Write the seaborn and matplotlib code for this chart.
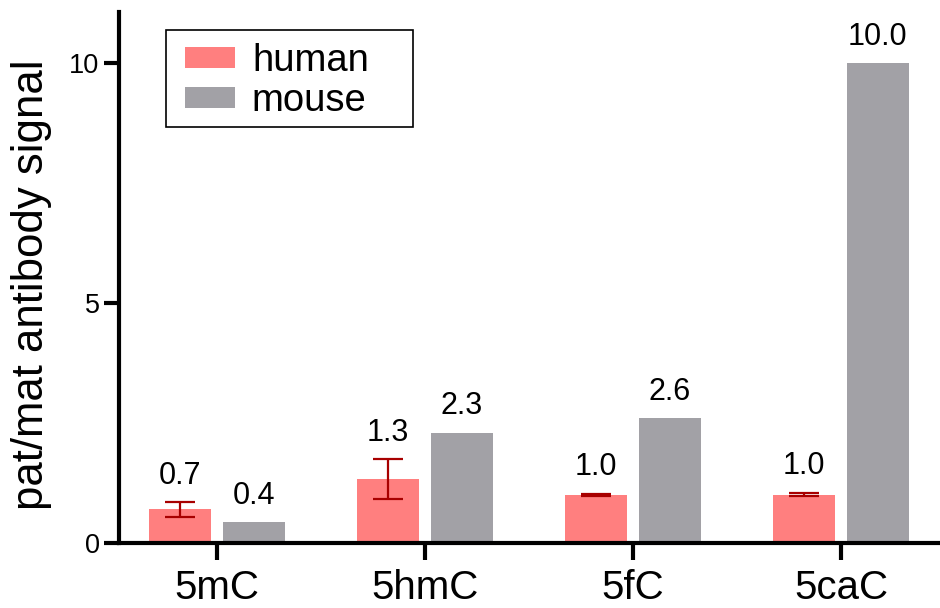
import matplotlib
matplotlib.use("Agg")
import matplotlib.pyplot as plt
from matplotlib.patches import Rectangle
import numpy as np
import pandas as pd
import seaborn as sns

# values
categories = ["5mC", "5hmC", "5fC", "5caC"]
species = ["human", "mouse"]
human_vals = [0.7, 1.33, 1.0, 1.0]
mouse_vals = [0.43, 2.3, 2.6, 10.0]
human_err_lo = [0.54, 0.92, 0.98, 0.98]
human_err_hi = [0.85, 1.75, 1.03, 1.05]
human_labels = ["0.7", "1.3", "1.0", "1.0"]
mouse_labels = ["0.4", "2.3", "2.6", "10.0"]

COLORS = {"human": "#FF7F7F", "mouse": "#A2A1A6"}
ERR_COLOR = "#A80000"

df = pd.DataFrame({
    "mark": categories * 2,
    "species": ["human"] * 4 + ["mouse"] * 4,
    "signal": human_vals + mouse_vals,
})

sns.set_theme(style="ticks")
plt.rcParams.update({
    "font.family": ["Liberation Sans", "DejaVu Sans"],
    "text.color": "black",
    "axes.labelcolor": "black",
    "axes.edgecolor": "black",
    "xtick.color": "black",
    "ytick.color": "black",
})

fig = plt.figure(figsize=(9.4, 6.08), dpi=100)
ax = fig.add_axes([0.1266, 0.1069, 0.8734, 0.873])

sns.barplot(data=df, x="mark", y="signal", hue="species", order=categories,
            hue_order=species, palette=COLORS, width=0.71, gap=0.155,
            errorbar=None, saturation=1, linewidth=0, ax=ax)

human_bars, mouse_bars = ax.containers[0], ax.containers[1]
hx = [p.get_x() + p.get_width() / 2 for p in human_bars]
mx = [p.get_x() + p.get_width() / 2 for p in mouse_bars]

lo = np.array(human_vals) - np.array(human_err_lo)
hi = np.array(human_err_hi) - np.array(human_vals)
ax.errorbar(hx, human_vals, yerr=[lo, hi], fmt="none", ecolor=ERR_COLOR,
            elinewidth=1.6, capsize=11, capthick=1.6, zorder=3)

for x, top, lab in zip(hx, human_err_hi, human_labels):
    ax.annotate(lab, (x, top), xytext=(0, 8), textcoords="offset points",
                ha="center", va="bottom", fontsize=22)
for x, top, lab in zip(mx, mouse_vals, mouse_labels):
    ax.annotate(lab, (x, top), xytext=(0, 8), textcoords="offset points",
                ha="center", va="bottom", fontsize=22)

ax.set_xlim(-0.471, 3.476)
ax.set_ylim(0, 11.05)
ax.set_yticks([0, 5, 10])
ax.set_xlabel("")
ax.set_ylabel("pat/mat antibody signal", fontsize=31.5)
ax.yaxis.set_label_coords(-0.082, 0.486)
ax.tick_params(axis="y", labelsize=19.5, width=3, length=11, pad=3)
ax.tick_params(axis="x", labelsize=29, width=3, length=12, pad=7)
sns.despine(ax=ax)
for s in ["left", "bottom"]:
    ax.spines[s].set_linewidth(3)

# legend entries without frame; the box is drawn separately to match the wide padding
ax.legend(loc="upper left", bbox_to_anchor=(0.0675, 0.962), fontsize=27.5,
          frameon=False, handlelength=1.3, handleheight=0.45,
          handletextpad=0.45, labelspacing=0.1, borderpad=0.28,
          borderaxespad=0)
ax.add_patch(Rectangle((0.0572, 0.783), 0.3009, 0.1827, transform=ax.transAxes,
                       fill=False, edgecolor="black", linewidth=1.2,
                       clip_on=False, zorder=5))

fig.savefig("out.png", dpi=100)
